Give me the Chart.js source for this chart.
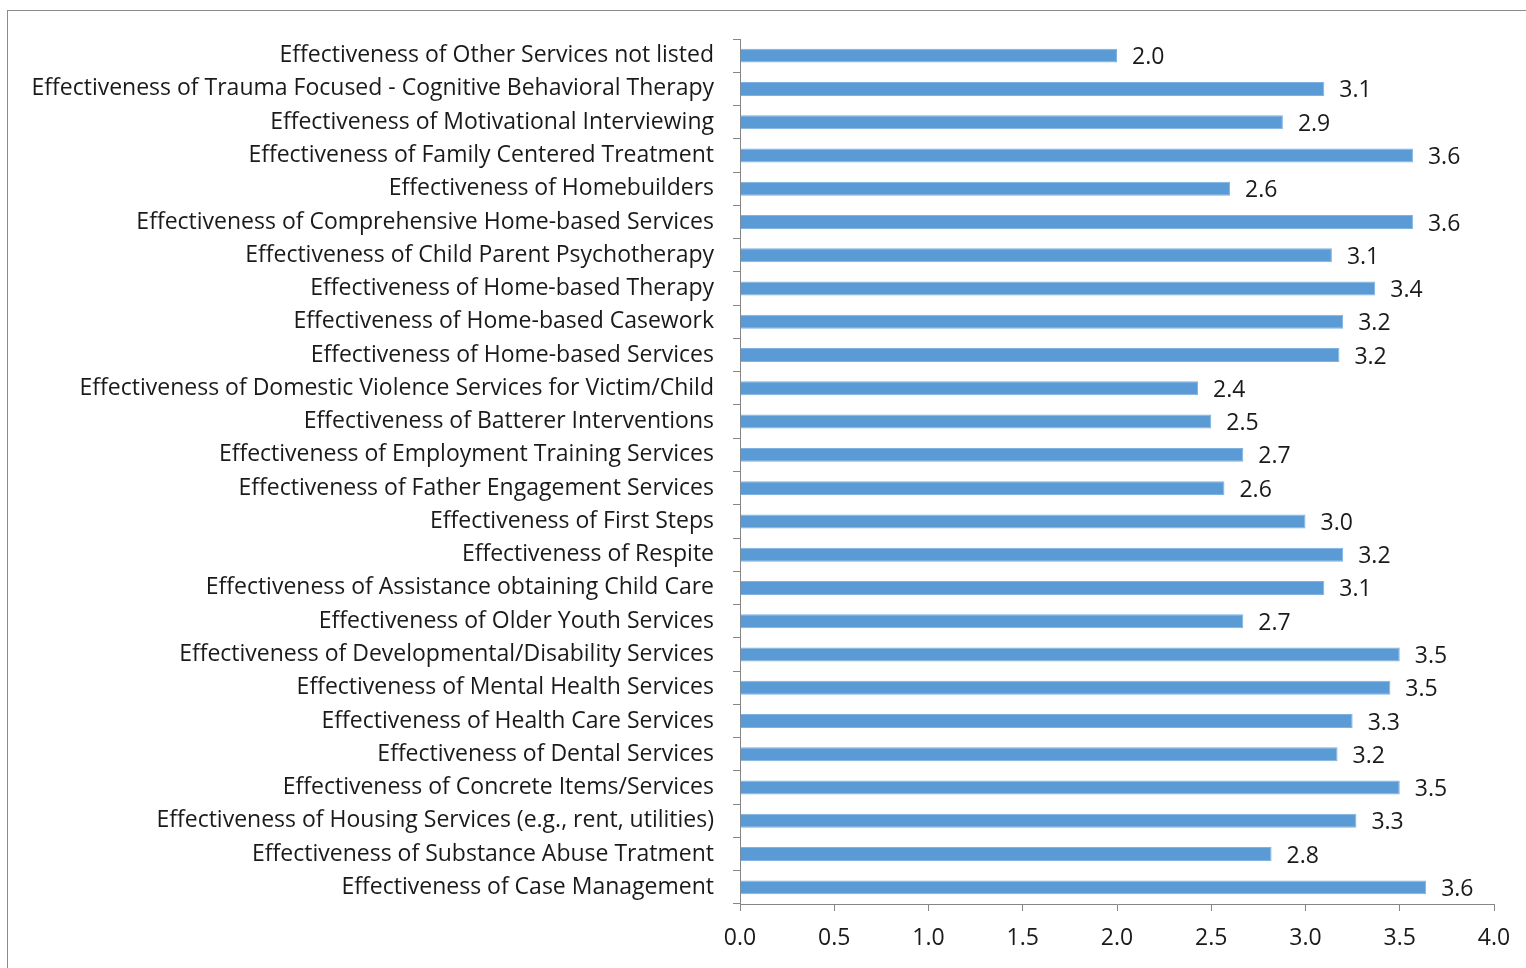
<!DOCTYPE html>
<html>
<head>
<meta charset="utf-8">
<script src="https://cdn.jsdelivr.net/npm/chart.js@4/dist/chart.umd.min.js"></script>
<style>
  html, body { margin: 0; padding: 0; background: #fff; }
  #wrap { position: relative; width: 1526px; height: 968px; overflow: hidden; }
  #frame { position: absolute; left: 7px; top: 10px; width: 1600px; height: 1000px;
           border-left: 1px solid #8c8c8c; border-top: 1px solid #8c8c8c; }
  canvas { position: absolute; left: 0; top: 0; }
</style>
</head>
<body>
<div id="wrap">
  <div id="frame"></div>
  <canvas id="barChart" width="1526" height="968"></canvas>
</div>
<script>
// kategori dari atas ke bawah
const categories = [
  'Effectiveness of Other Services not listed',
  'Effectiveness of Trauma Focused - Cognitive Behavioral Therapy',
  'Effectiveness of Motivational Interviewing',
  'Effectiveness of Family Centered Treatment',
  'Effectiveness of Homebuilders',
  'Effectiveness of Comprehensive Home-based Services',
  'Effectiveness of Child Parent Psychotherapy',
  'Effectiveness of Home-based Therapy',
  'Effectiveness of Home-based Casework',
  'Effectiveness of Home-based Services',
  'Effectiveness of Domestic Violence Services for Victim/Child',
  'Effectiveness of Batterer Interventions',
  'Effectiveness of Employment Training Services',
  'Effectiveness of Father Engagement Services',
  'Effectiveness of First Steps',
  'Effectiveness of Respite',
  'Effectiveness of Assistance obtaining Child Care',
  'Effectiveness of Older Youth Services',
  'Effectiveness of Developmental/Disability Services',
  'Effectiveness of Mental Health Services',
  'Effectiveness of Health Care Services',
  'Effectiveness of Dental Services',
  'Effectiveness of Concrete Items/Services',
  'Effectiveness of Housing Services (e.g., rent, utilities)',
  'Effectiveness of Substance Abuse Tratment',
  'Effectiveness of Case Management'
];

const scores = [
  2.00, 3.10, 2.88, 3.57, 2.60, 3.57, 3.14, 3.37, 3.20, 3.18,
  2.43, 2.50, 2.67, 2.57, 3.00, 3.20, 3.10, 2.67, 3.50, 3.45,
  3.25, 3.17, 3.50, 3.27, 2.82, 3.64
];

const xTicks = [0, 0.5, 1.0, 1.5, 2.0, 2.5, 3.0, 3.5, 4.0];

const FONT = '"Open Sans", Lato, sans-serif';
const SIZE = 23;

// plugin kecil untuk angka di ujung batang
const valueLabels = {
  id: 'valueLabels',
  afterDatasetsDraw(chart) {
    const c = chart.ctx;
    const meta = chart.getDatasetMeta(0);
    c.save();
    c.font = SIZE + 'px ' + FONT;
    c.fillStyle = '#1a1a1a';
    c.textAlign = 'left';
    c.textBaseline = 'middle';
    meta.data.forEach((bar, i) => {
      c.fillText(scores[i].toFixed(1), bar.x + 15, bar.y + 2);
    });
    c.restore();
  }
};

const ctx = document.getElementById('barChart').getContext('2d');

new Chart(ctx, {
  type: 'bar',
  data: {
    labels: categories,
    datasets: [{
      data: scores,
      backgroundColor: '#5b9bd5',
      borderColor: '#7fb2e0',
      borderWidth: 1,
      barPercentage: 0.42,
      categoryPercentage: 1.0
    }]
  },
  options: {
    indexAxis: 'y',
    responsive: false,
    animation: false,
    layout: { padding: { top: 39, right: 32, bottom: 12, left: 0 } },
    plugins: {
      legend: { display: false },
      tooltip: { enabled: false }
    },
    scales: {
      x: {
        min: 0,
        max: 4,
        afterBuildTicks(scale) {
          scale.ticks = xTicks.map(v => ({ value: v }));
        },
        afterFit(scale) { scale.height = 52; },
        grid: {
          drawOnChartArea: false,
          drawTicks: true,
          tickLength: 7,
          color: '#868686'
        },
        border: { color: '#868686', width: 1 },
        ticks: {
          padding: 14,
          color: '#1a1a1a',
          font: { family: FONT, size: SIZE },
          callback: v => Number(v).toFixed(1)
        }
      },
      y: {
        afterFit(scale) { scale.width = 740; },
        grid: {
          offset: true,
          drawOnChartArea: false,
          drawTicks: true,
          tickLength: 7,
          color: '#868686'
        },
        border: { color: '#868686', width: 1 },
        ticks: {
          padding: 19,
          autoSkip: false,
          color: '#1a1a1a',
          font: { family: FONT, size: SIZE }
        }
      }
    }
  },
  plugins: [valueLabels]
});
</script>
</body>
</html>
